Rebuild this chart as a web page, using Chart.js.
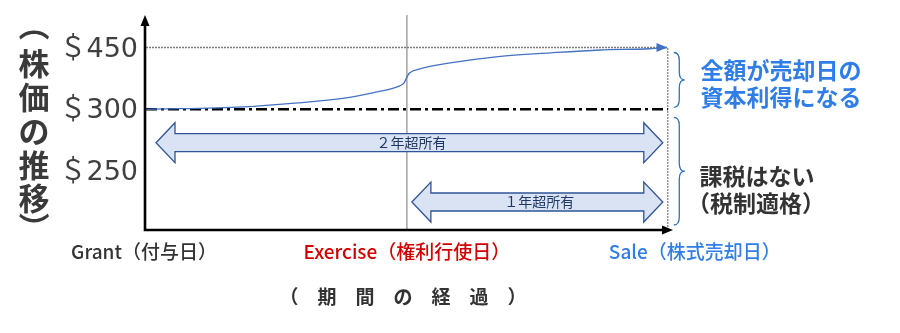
<!DOCTYPE html>
<html>
<head>
<meta charset="utf-8">
<script src="https://cdn.jsdelivr.net/npm/chart.js@4.4.1/dist/chart.umd.min.js"></script>
<style>
  html, body { margin: 0; padding: 0; background: #fff; }
  canvas { display: block; }
</style>
</head>
<body>
<canvas id="c" width="900" height="333"></canvas>
<script>
const FONT = "'Noto Sans CJK JP', 'Noto Sans', sans-serif";
const TICK_FONT = "'DejaVu Sans', 'Noto Sans CJK JP', sans-serif";

// Price levels shown on the vertical axis
const tickPrices = [250, 300, 450];
const tickLabels = ['＄250', '＄300', '＄450'];

// Share price over time (years since grant)
const years  = [0, 0.375, 0.57, 0.76, 0.89, 0.965, 0.99, 1.0, 1.01, 1.05, 1.16, 1.35, 1.55, 1.74, 1.93, 1.995];
const prices = [300, 306, 315, 327, 343, 355, 365, 378, 388, 398, 412, 428, 437, 444, 447, 450];

// Key dates
const eventYears  = [0, 1, 2];
const eventLabels = ['Grant（付与日）', 'Exercise（権利行使日）', 'Sale（株式売却日）'];

// Holding periods
const holdFrom   = [0, 1];
const holdTo     = [2, 2];
const holdLabels = ['２年超所有', '１年超所有'];

// Side notes
const gainNote = ['全額が売却日の', '資本利得になる'];
const taxNote  = ['課税はない', '（税制適格）'];

// Axis titles
const yTitle = ['（', '株', '価', 'の', '推', '移', '）'];
const xTitle = '（　期　間　の　経　過　）';

// Strike (exercise) price and sale price
const strikePrice = 300;
const salePrice = 450;

// Tick prices sit on evenly spaced levels 1, 2, 3; prices in between are placed proportionally
function priceToLevel(p) {
  let i = 0;
  while (i < tickPrices.length - 2 && p > tickPrices[i + 1]) i++;
  const a = tickPrices[i], b = tickPrices[i + 1];
  return i + 1 + (p - a) / (b - a);
}

const Y_MIN = 0.047, Y_MAX = 3.526;
const X_MIN = 0, X_MAX = 2.02;

const BLUE = '#2f7de6';
const RED = '#d20000';
const DARK = '#333333';

function brace(ctx, x, y1, y2, w) {
  const mid = (y1 + y2) / 2;
  const r = Math.min(8, (y2 - y1) / 4);
  const xm = x + w / 2;
  ctx.beginPath();
  ctx.moveTo(x, y1);
  ctx.quadraticCurveTo(xm, y1, xm, y1 + r);
  ctx.lineTo(xm, mid - r);
  ctx.quadraticCurveTo(xm, mid, x + w, mid);
  ctx.quadraticCurveTo(xm, mid, xm, mid + r);
  ctx.lineTo(xm, y2 - r);
  ctx.quadraticCurveTo(xm, y2, x, y2);
  ctx.stroke();
}

function blockArrow(ctx, x1, x2, yc, bodyH, headH, headL) {
  ctx.beginPath();
  ctx.moveTo(x1, yc);
  ctx.lineTo(x1 + headL, yc - headH);
  ctx.lineTo(x1 + headL, yc - bodyH);
  ctx.lineTo(x2 - headL, yc - bodyH);
  ctx.lineTo(x2 - headL, yc - headH);
  ctx.lineTo(x2, yc);
  ctx.lineTo(x2 - headL, yc + headH);
  ctx.lineTo(x2 - headL, yc + bodyH);
  ctx.lineTo(x1 + headL, yc + bodyH);
  ctx.lineTo(x1 + headL, yc + headH);
  ctx.closePath();
  ctx.fillStyle = '#dae3f3';
  ctx.fill();
  ctx.strokeStyle = '#2f5597';
  ctx.lineWidth = 1.3;
  ctx.stroke();
}

// Draws a glyph turned a quarter clockwise with its ink centred on (cx, cy)
function turnedGlyph(ctx, ch, cx, cy) {
  ctx.save();
  ctx.textAlign = 'left';
  ctx.textBaseline = 'alphabetic';
  const m = ctx.measureText(ch);
  const inkX = (m.actualBoundingBoxRight - m.actualBoundingBoxLeft) / 2;
  const inkY = (m.actualBoundingBoxDescent - m.actualBoundingBoxAscent) / 2;
  ctx.setTransform(0, 1, -1, 0, cx, cy);
  ctx.fillText(ch, -inkX, -inkY);
  ctx.restore();
}

const decorations = {
  id: 'decorations',
  afterDatasetsDraw(chart) {
    const { ctx, chartArea: ca, scales: { x, y } } = chart;
    ctx.save();

    // Axes with arrow heads
    const ax = ca.left - 1, ay = ca.bottom;
    ctx.strokeStyle = '#000';
    ctx.fillStyle = '#000';
    ctx.lineWidth = 2.6;
    ctx.beginPath();
    ctx.moveTo(ax, ay + 1.3);
    ctx.lineTo(ax, ca.top + 8);
    ctx.moveTo(ax - 1.3, ay);
    ctx.lineTo(ca.right - 9, ay);
    ctx.stroke();
    ctx.beginPath();
    ctx.moveTo(ax, ca.top);
    ctx.lineTo(ax - 4.5, ca.top + 11);
    ctx.lineTo(ax + 4.5, ca.top + 11);
    ctx.closePath();
    ctx.fill();
    ctx.beginPath();
    ctx.moveTo(ca.right, ay);
    ctx.lineTo(ca.right - 11, ay - 4.5);
    ctx.lineTo(ca.right - 11, ay + 4.5);
    ctx.closePath();
    ctx.fill();

    // Arrow head at the end of the price curve
    const n = years.length - 1;
    const tx = x.getPixelForValue(years[n]);
    const ty = y.getPixelForValue(priceToLevel(prices[n]));
    ctx.fillStyle = '#4472c4';
    ctx.beginPath();
    ctx.moveTo(tx + 1, ty);
    ctx.lineTo(tx - 10, ty - 4.5);
    ctx.lineTo(tx - 10, ty + 4.5);
    ctx.closePath();
    ctx.fill();

    // Holding-period arrows
    const rowLevels = [1.46, 0.5];
    holdLabels.forEach((label, i) => {
      const x1 = x.getPixelForValue(holdFrom[i]) + (holdFrom[i] === 0 ? 10 : 5);
      const x2 = x.getPixelForValue(holdTo[i]) - 5;
      const yc = y.getPixelForValue(rowLevels[i]);
      blockArrow(ctx, x1, x2, yc, 9, 20, 19);
      ctx.fillStyle = '#1f3864';
      ctx.font = `14px ${FONT}`;
      ctx.textAlign = 'center';
      ctx.textBaseline = 'middle';
      ctx.fillText(label, (x1 + x2) / 2 + 2, yc);
    });

    // Braces on the right
    const yTop = y.getPixelForValue(priceToLevel(salePrice));
    const yMid = y.getPixelForValue(priceToLevel(strikePrice));
    const bx = x.getPixelForValue(2) + 6;
    ctx.strokeStyle = '#2e75b6';
    ctx.lineWidth = 1.3;
    brace(ctx, bx, yTop + 5, yMid - 2, 11);
    brace(ctx, bx, yMid + 8, ca.bottom - 5, 11);

    // Side notes
    ctx.textAlign = 'center';
    ctx.textBaseline = 'middle';
    ctx.font = `bold 23px ${FONT}`;
    ctx.fillStyle = BLUE;
    ctx.fillText(gainNote[0], 781, 70);
    ctx.fillText(gainNote[1], 781, 97);
    ctx.fillStyle = DARK;
    ctx.fillText(taxNote[0], 757, 176);
    ctx.fillText(taxNote[1], 756, 203);

    // Key date labels under the time axis
    const eventColors = [DARK, RED, BLUE];
    const eventShift = [-2, 0, 27];
    ctx.font = `500 19px ${FONT}`;
    eventLabels.forEach((label, i) => {
      ctx.fillStyle = eventColors[i];
      ctx.fillText(label, x.getPixelForValue(eventYears[i]) + eventShift[i], 252);
    });

    // Time axis title
    ctx.fillStyle = DARK;
    ctx.font = `bold 19px ${FONT}`;
    ctx.fillText(xTitle, 403, 297);

    // Vertical price axis title, set upright character by character;
    // the brackets are turned a quarter so they close the column top and bottom
    ctx.font = `bold 31px ${FONT}`;
    ctx.fillStyle = '#3a3a3a';
    const ys = [35, 63.5, 97, 131, 165, 198.5, 218];
    yTitle.forEach((ch, i) => {
      if (ch === '（' || ch === '）') {
        turnedGlyph(ctx, ch, 34, ys[i]);
      } else {
        ctx.fillText(ch, 34, ys[i]);
      }
    });

    ctx.restore();
  }
};

const lineStyle = { showLine: true, pointRadius: 0, pointHoverRadius: 0, fill: false };

new Chart(document.getElementById('c'), {
  type: 'scatter',
  data: {
    datasets: [
      {
        ...lineStyle,
        label: 'price',
        data: years.map((t, i) => ({ x: t, y: priceToLevel(prices[i]) })),
        borderColor: '#4472c4',
        borderWidth: 1.3,
        cubicInterpolationMode: 'monotone'
      },
      {
        ...lineStyle,
        label: 'sale',
        data: [{ x: 0, y: priceToLevel(salePrice) }, { x: 2, y: priceToLevel(salePrice) }],
        borderColor: '#7a7a7a',
        borderWidth: 1.3,
        borderDash: [2, 1]
      },
      {
        ...lineStyle,
        label: 'strike',
        data: [{ x: 0, y: priceToLevel(strikePrice) }, { x: 2, y: priceToLevel(strikePrice) }],
        borderColor: '#000',
        borderWidth: 2.6,
        borderDash: [11, 4, 3, 4]
      },
      {
        ...lineStyle,
        label: 'exercise',
        data: [{ x: eventYears[1], y: Y_MIN }, { x: eventYears[1], y: Y_MAX }],
        borderColor: '#8a8a8a',
        borderWidth: 1.2
      },
      {
        ...lineStyle,
        label: 'saleDate',
        data: [{ x: eventYears[2], y: Y_MIN }, { x: eventYears[2], y: priceToLevel(salePrice) }],
        borderColor: '#7a7a7a',
        borderWidth: 1.2,
        borderDash: [2, 1]
      }
    ]
  },
  options: {
    responsive: false,
    animation: false,
    devicePixelRatio: 1,
    layout: { padding: { left: 0, top: 15, right: 227, bottom: 103 } },
    plugins: { legend: { display: false }, tooltip: { enabled: false } },
    events: [],
    scales: {
      x: {
        type: 'linear',
        display: false,
        min: X_MIN,
        max: X_MAX
      },
      y: {
        type: 'linear',
        min: Y_MIN,
        max: Y_MAX,
        grid: { display: false, drawTicks: false },
        border: { display: false },
        afterBuildTicks(scale) {
          scale.ticks = tickPrices.map(p => ({ value: priceToLevel(p) }));
        },
        afterFit(scale) {
          scale.width = 146;
          scale.paddingTop = 0;
          scale.paddingBottom = 0;
        },
        ticks: {
          padding: 8,
          labelOffset: 2,
          color: '#404040',
          font: { family: TICK_FONT, size: 27 },
          callback: (value, index) => tickLabels[index]
        }
      }
    }
  },
  plugins: [decorations]
});
</script>
</body>
</html>
